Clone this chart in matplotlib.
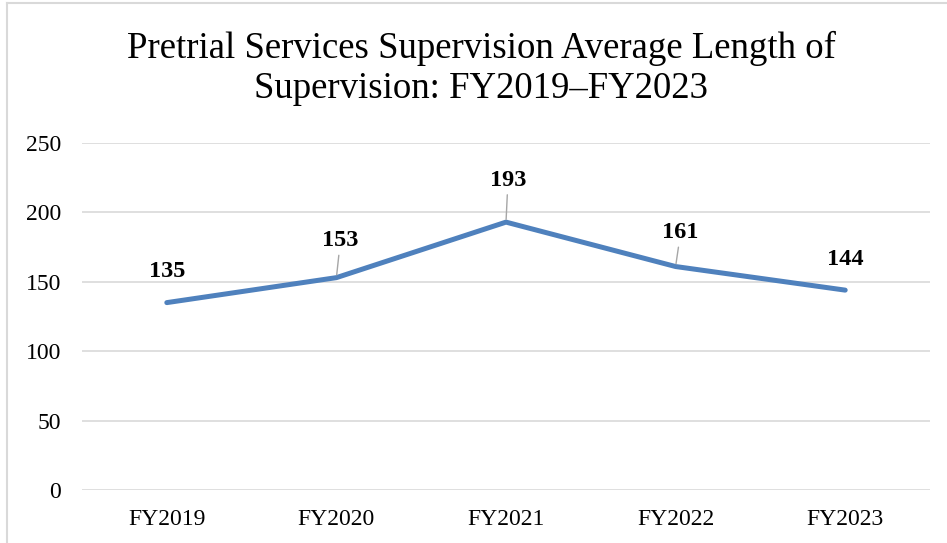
import matplotlib.pyplot as plt
from matplotlib.lines import Line2D

years = ["FY2019", "FY2020", "FY2021", "FY2022", "FY2023"]
avg_length = [135, 153, 193, 161, 144]
yticks = [0, 50, 100, 150, 200, 250]
title_lines = ["Pretrial Services Supervision Average Length of",
               "Supervision: FY2019\u2013FY2023"]

# label offsets in pixels (dx, dy) and whether a leader line is drawn
label_dx = [0, 4, 2, 5, 0]
label_dy = [31, 37, 42, 34, 31]
leader = [False, True, True, True, False]

plt.rcParams['font.family'] = ['Liberation Serif', 'DejaVu Serif']

fig = plt.figure(figsize=(9.47, 5.43), dpi=100)
ax = fig.add_axes([82/947, 53/543, 848/947, 347/543])

x = list(range(len(years)))
ax.plot(x, avg_length, color="#4F81BD", lw=3.6, solid_capstyle="round", zorder=3)

for i, v in enumerate(avg_length):
    dx = label_dx[i] * 0.72
    dy = label_dy[i] * 0.72
    props = None
    if leader[i]:
        props = dict(arrowstyle="-", color="#A6A6A6", lw=1.0, shrinkA=1, shrinkB=2)
    ax.annotate(str(v), xy=(i, v), xytext=(dx, dy), textcoords="offset points",
                ha="center", va="center", fontsize=17.5, fontweight="bold",
                arrowprops=props, zorder=4)

ax.set_xlim(-0.5, len(years) - 0.5)
ax.set_ylim(0, 250)
ax.set_yticks(yticks)
ax.set_xticks(x)
ax.set_xticklabels(years)
ax.tick_params(axis="both", length=0, labelsize=17)
ax.tick_params(axis="y", pad=15)
ax.tick_params(axis="x", pad=13.5)
ax.grid(axis="y", color="#D9D9D9", lw=1.2)
ax.set_axisbelow(True)
for s in ax.spines.values():
    s.set_visible(False)

# two title lines, baselines placed separately
fig.text(481/947, 1 - 58/543, title_lines[0], ha="center", va="baseline", fontsize=26.5)
fig.text(481/947, 1 - 98/543, title_lines[1], ha="center", va="baseline", fontsize=26.5)

# chart border (only top and left visible)
fig.add_artist(Line2D([7/947, 1], [1 - 3/543, 1 - 3/543], color="#D9D9D9", lw=1.5))
fig.add_artist(Line2D([7/947, 7/947], [0, 1 - 3/543], color="#D9D9D9", lw=1.5))

fig.savefig("out.png", dpi=100)
